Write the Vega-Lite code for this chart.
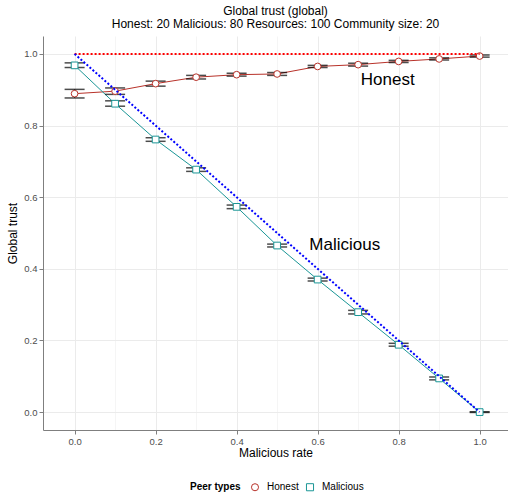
{
  "$schema": "https://vega.github.io/schema/vega-lite/v6.json",
  "autosize": {"type": "none"},
  "padding": {"left": 43, "top": 36, "right": 0, "bottom": 62},
  "width": 465,
  "height": 394,
  "background": "white",
  "title": {
    "text": ["Global trust (global)", "Honest: 20 Malicious: 80 Resources: 100 Community size: 20"],
    "font": "Liberation Sans",
    "fontSize": 12,
    "fontWeight": "normal",
    "color": "black",
    "anchor": "middle",
    "offset": 5,
    "lineHeight": 13
  },
  "config": {
    "view": {"stroke": null},
    "axis": {
      "domainColor": "#7F7F7F",
      "tickColor": "#7F7F7F",
      "labelColor": "#4D4D4D",
      "labelFont": "Liberation Sans",
      "labelFontSize": 9.5,
      "titleFont": "Liberation Sans",
      "titleFontSize": 12,
      "titleFontWeight": "normal",
      "titleColor": "black",
      "gridColor": "#EBEBEB",
      "tickSize": 4,
      "labelPadding": 2
    },
    "legend": {
      "labelFont": "Liberation Sans",
      "titleFont": "Liberation Sans"
    }
  },
  "datasets": {
    "series": [
      {"type": "Honest", "x": 0.0, "y": 0.889, "ymin": 0.877, "ymax": 0.901},
      {"type": "Honest", "x": 0.1, "y": 0.896, "ymin": 0.887, "ymax": 0.905},
      {"type": "Honest", "x": 0.2, "y": 0.917, "ymin": 0.910, "ymax": 0.924},
      {"type": "Honest", "x": 0.3, "y": 0.935, "ymin": 0.930, "ymax": 0.940},
      {"type": "Honest", "x": 0.4, "y": 0.942, "ymin": 0.938, "ymax": 0.946},
      {"type": "Honest", "x": 0.5, "y": 0.944, "ymin": 0.940, "ymax": 0.948},
      {"type": "Honest", "x": 0.6, "y": 0.965, "ymin": 0.962, "ymax": 0.968},
      {"type": "Honest", "x": 0.7, "y": 0.970, "ymin": 0.966, "ymax": 0.974},
      {"type": "Honest", "x": 0.8, "y": 0.979, "ymin": 0.976, "ymax": 0.982},
      {"type": "Honest", "x": 0.9, "y": 0.986, "ymin": 0.983, "ymax": 0.989},
      {"type": "Honest", "x": 1.0, "y": 0.994, "ymin": 0.991, "ymax": 0.997},
      {"type": "Malicious", "x": 0.0, "y": 0.968, "ymin": 0.962, "ymax": 0.975},
      {"type": "Malicious", "x": 0.1, "y": 0.861, "ymin": 0.854, "ymax": 0.869},
      {"type": "Malicious", "x": 0.2, "y": 0.761, "ymin": 0.756, "ymax": 0.766},
      {"type": "Malicious", "x": 0.3, "y": 0.677, "ymin": 0.672, "ymax": 0.682},
      {"type": "Malicious", "x": 0.4, "y": 0.573, "ymin": 0.568, "ymax": 0.578},
      {"type": "Malicious", "x": 0.5, "y": 0.465, "ymin": 0.461, "ymax": 0.469},
      {"type": "Malicious", "x": 0.6, "y": 0.370, "ymin": 0.366, "ymax": 0.374},
      {"type": "Malicious", "x": 0.7, "y": 0.279, "ymin": 0.274, "ymax": 0.284},
      {"type": "Malicious", "x": 0.8, "y": 0.188, "ymin": 0.184, "ymax": 0.192},
      {"type": "Malicious", "x": 0.9, "y": 0.094, "ymin": 0.090, "ymax": 0.098},
      {"type": "Malicious", "x": 1.0, "y": 0.000, "ymin": -0.001, "ymax": 0.001}
    ],
    "redref": [{"x": 0, "y": 1}, {"x": 1, "y": 1}],
    "blueref": [{"x": 0, "y": 1}, {"x": 1, "y": 0}],
    "labels": [
      {"label": "Honest", "x": 0.773, "y": 0.928},
      {"label": "Malicious", "x": 0.667, "y": 0.467}
    ]
  },
  "layer": [
    {
      "data": {"name": "series"},
      "mark": {"type": "line", "strokeWidth": 1},
      "encoding": {
        "x": {
          "field": "x", "type": "quantitative",
          "scale": {"domain": [-0.078, 1.07], "nice": false, "zero": false},
          "axis": {
            "title": "Malicious rate",
            "values": [0, 0.1, 0.2, 0.3, 0.4, 0.5, 0.6, 0.7, 0.8, 0.9, 1.0],
            "labelExpr": "round(datum.value*10)%2==0 ? format(datum.value, '.1f') : ''",
            "gridWidth": {"condition": {"test": "round(datum.value*10)%2==0", "value": 1}, "value": 0.5},
            "tickOpacity": {"condition": {"test": "round(datum.value*10)%2==0", "value": 1}, "value": 0},
            "titlePadding": 2
          }
        },
        "y": {
          "field": "y", "type": "quantitative",
          "scale": {"domain": [-0.05, 1.05], "nice": false, "zero": false},
          "axis": {
            "title": "Global trust",
            "values": [0, 0.1, 0.2, 0.3, 0.4, 0.5, 0.6, 0.7, 0.8, 0.9, 1.0],
            "labelExpr": "round(datum.value*10)%2==0 ? format(datum.value, '.1f') : ''",
            "gridWidth": {"condition": {"test": "round(datum.value*10)%2==0", "value": 1}, "value": 0.5},
            "tickOpacity": {"condition": {"test": "round(datum.value*10)%2==0", "value": 1}, "value": 0},
            "titlePadding": 4
          }
        },
        "stroke": {
          "field": "type", "type": "nominal",
          "scale": {"domain": ["Honest", "Malicious"], "range": ["#B8322A", "#1A9696"]},
          "legend": {
            "title": "Peer types",
            "orient": "none",
            "legendX": 147,
            "legendY": 446,
            "direction": "horizontal",
            "titleOrient": "left",
            "titleFontWeight": "bold",
            "titleFontSize": 10,
            "titleColor": "black",
            "titlePadding": 9,
            "labelFontSize": 10,
            "labelColor": "black",
            "labelOffset": 7,
            "columnPadding": 5,
            "symbolSize": 50,
            "symbolStrokeWidth": 1,
            "symbolFillColor": "white"
          }
        }
      }
    },
    {
      "data": {"name": "series"},
      "mark": {"type": "rule", "color": "black", "strokeWidth": 1},
      "encoding": {
        "x": {"field": "x", "type": "quantitative"},
        "y": {"field": "ymin", "type": "quantitative"},
        "y2": {"field": "ymax"}
      }
    },
    {
      "data": {"name": "series"},
      "mark": {"type": "tick", "orient": "horizontal", "color": "black", "size": 20, "thickness": 1.5},
      "encoding": {
        "x": {"field": "x", "type": "quantitative"},
        "y": {"field": "ymin", "type": "quantitative"}
      }
    },
    {
      "data": {"name": "series"},
      "mark": {"type": "tick", "orient": "horizontal", "color": "black", "size": 20, "thickness": 1.5},
      "encoding": {
        "x": {"field": "x", "type": "quantitative"},
        "y": {"field": "ymax", "type": "quantitative"}
      }
    },
    {
      "data": {"name": "series"},
      "mark": {"type": "point", "filled": false, "fill": "white", "fillOpacity": 1, "opacity": 1, "size": 45, "strokeWidth": 1},
      "encoding": {
        "x": {"field": "x", "type": "quantitative"},
        "y": {"field": "y", "type": "quantitative"},
        "stroke": {"field": "type", "type": "nominal", "legend": null},
        "shape": {
          "field": "type", "type": "nominal",
          "scale": {"domain": ["Honest", "Malicious"], "range": ["circle", "square"]},
          "legend": null
        }
      }
    },
    {
      "data": {"name": "redref"},
      "mark": {"type": "line", "color": "#FF0000", "strokeWidth": 2, "strokeDash": [2, 2]},
      "encoding": {
        "x": {"field": "x", "type": "quantitative"},
        "y": {"field": "y", "type": "quantitative"}
      }
    },
    {
      "data": {"name": "blueref"},
      "mark": {"type": "line", "color": "#0000FF", "strokeWidth": 2, "strokeDash": [2, 2]},
      "encoding": {
        "x": {"field": "x", "type": "quantitative"},
        "y": {"field": "y", "type": "quantitative"}
      }
    },
    {
      "data": {"name": "labels"},
      "mark": {"type": "text", "font": "Liberation Sans", "fontSize": 17, "color": "black", "align": "center", "baseline": "middle"},
      "encoding": {
        "x": {"field": "x", "type": "quantitative"},
        "y": {"field": "y", "type": "quantitative"},
        "text": {"field": "label"}
      }
    }
  ]
}
